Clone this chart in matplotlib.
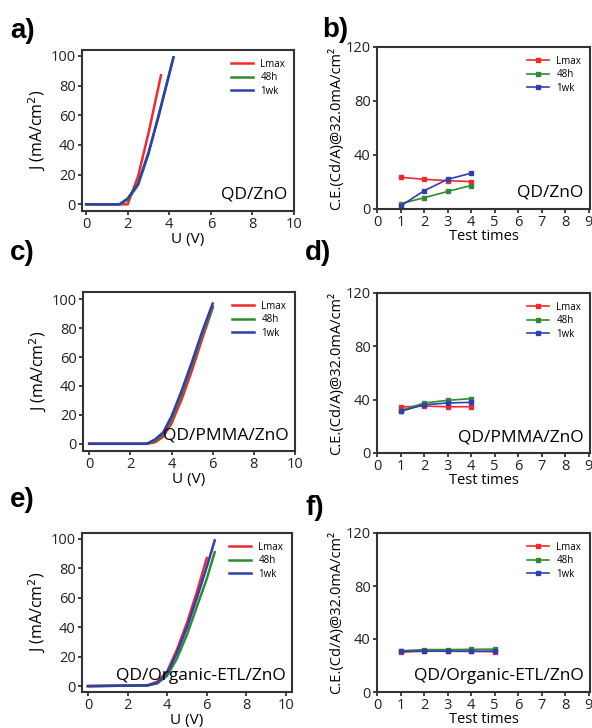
import matplotlib
matplotlib.use("Agg")
import matplotlib.pyplot as plt

plt.rcParams['font.family'] = ['Open Sans', 'DejaVu Sans']

W, H = 592, 728
RED, GREEN, BLUE = "#f02a2a", "#2e8b2e", "#2f3fb0"
SERIES = ["Lmax", "48h", "1wk"]

# --- J-V curves (U in V, J in mA/cm2) ---
a_u = {"Lmax": [0, 1.6, 2.0, 2.5, 3.0, 3.6],
       "48h": [0, 1.6, 2.0, 2.5, 3.0, 3.5, 4.2],
       "1wk": [0, 1.6, 2.0, 2.5, 3.0, 3.5, 4.2]}
a_j = {"Lmax": [0, 0, 0, 19, 48, 87],
       "48h": [0, 0, 3, 13, 34, 61, 99],
       "1wk": [0, 0, 4, 14, 35, 60, 99]}

c_u = {"Lmax": [0, 2.8, 3.2, 3.6, 4.0, 4.5, 5.0, 5.5, 6.0],
       "48h": [0, 2.8, 3.2, 3.6, 4.0, 4.5, 5.0, 5.5, 6.0],
       "1wk": [0, 2.8, 3.2, 3.6, 4.0, 4.5, 5.0, 5.5, 6.0]}
c_j = {"Lmax": [0, 0, 1, 5, 14, 31, 51, 73, 94],
       "48h": [0, 0, 2, 7, 17, 35, 55, 76, 95],
       "1wk": [0, 0, 3, 8, 19, 37, 57, 78, 97]}

e_u = {"Lmax": [0, 3.0, 3.5, 4.0, 4.5, 5.0, 5.5, 6.0],
       "48h": [0, 3.0, 3.5, 4.0, 4.5, 5.0, 5.5, 6.0, 6.4],
       "1wk": [0, 3.0, 3.5, 4.0, 4.5, 5.0, 5.5, 6.0, 6.4]}
e_j = {"Lmax": [0, 0.5, 3, 10, 25, 43, 64, 87],
       "48h": [0, 0.5, 2, 7, 19, 35, 54, 73, 91],
       "1wk": [0, 0.5, 2, 9, 23, 40, 60, 81, 99]}

# --- current efficiency vs test times ---
b_t = [1, 2, 3, 4]
b_ce = {"Lmax": [23.5, 22, 21, 20.3], "48h": [4, 8.3, 13, 17.4], "1wk": [2.2, 13.5, 22, 26.5]}
d_t = [1, 2, 3, 4]
d_ce = {"Lmax": [34.5, 35.2, 34.7, 34.7], "48h": [31.7, 37.5, 39.5, 40.8], "1wk": [31.2, 36.2, 37.5, 38]}
f_t = [1, 2, 3, 4, 5]
f_ce = {"Lmax": [30, 30.8, 30.8, 30.6, 30.4], "48h": [31, 32, 32, 32.2, 32.3], "1wk": [31, 30.8, 30.8, 30.8, 30.8]}

COLORS = {"Lmax": RED, "48h": GREEN, "1wk": BLUE}

fig = plt.figure(figsize=(W / 100, H / 100), dpi=100)


def px_axes(l, t, r, b):
    return fig.add_axes([l / W, 1 - b / H, (r - l) / W, (b - t) / H])


def style(ax):
    for s in ax.spines.values():
        s.set_color("#333333")
        s.set_linewidth(1.5)
    ax.tick_params(direction="out", length=3, width=1.2, labelsize=10.5,
                   colors="#222222", pad=1.5)


def finish(ax, label):
    style(ax)
    ax.legend(loc="upper right", fontsize=7, frameon=False, handlelength=2.2,
              labelspacing=0.25, borderaxespad=0.5)
    ax.text(0.97, 0.05, label, transform=ax.transAxes, ha="right", va="bottom",
            fontsize=12.5)


def jv_panel(box, us, js, label, xlim, ylim):
    ax = px_axes(*box)
    for s in SERIES:
        ax.plot(us[s], js[s], color=COLORS[s], lw=1.8, label=s)
    ax.set_xlim(*xlim)
    ax.set_ylim(*ylim)
    ax.set_xticks([0, 2, 4, 6, 8, 10])
    ax.set_yticks([0, 20, 40, 60, 80, 100])
    ax.set_xlabel("U (V)", fontsize=11, labelpad=0)
    ax.set_ylabel("J (mA/cm$^2$)", fontsize=11.5, labelpad=2)
    finish(ax, label)
    return ax


def ce_panel(box, ts, ces, label):
    ax = px_axes(*box)
    for s in SERIES:
        ax.plot(ts, ces[s], color=COLORS[s], lw=1.2, marker="s", ms=3.5, label=s)
    ax.set_xlim(0, 9.05)
    ax.set_ylim(0, 120)
    ax.set_xticks(range(10))
    ax.set_yticks([0, 40, 80, 120])
    ax.set_xlabel("Test times", fontsize=10.5, labelpad=-1)
    ax.set_ylabel("C.E.(Cd/A)@32.0mA/cm²", fontsize=10.5, labelpad=1)
    finish(ax, label)
    return ax


jv_panel((82, 50, 294, 211), a_u, a_j, "QD/ZnO", (-0.2, 10), (-4.5, 104))
jv_panel((83, 292, 295, 451), c_u, c_j, "QD/PMMA/ZnO", (-0.3, 10), (-5, 105))
jv_panel((82, 533, 292, 692), e_u, e_j, "QD/Organic-ETL/ZnO", (-0.3, 10.3), (-4, 104))

ce_panel((377, 47, 590, 209), b_t, b_ce, "QD/ZnO")
ce_panel((377, 293, 590, 453), d_t, d_ce, "QD/PMMA/ZnO")
ce_panel((377, 533, 590, 692), f_t, f_ce, "QD/Organic-ETL/ZnO")

for lab, x, y in [("a)", 10, 31), ("b)", 322, 30), ("c)", 10, 253),
                  ("d)", 305, 253), ("e)", 10, 500), ("f)", 305, 508)]:
    fig.text(x / W, 1 - y / H, lab, fontsize=20, fontweight="bold",
             ha="left", va="center", family=["Arial", "Liberation Sans", "DejaVu Sans"])

fig.savefig("out.png", dpi=100)
